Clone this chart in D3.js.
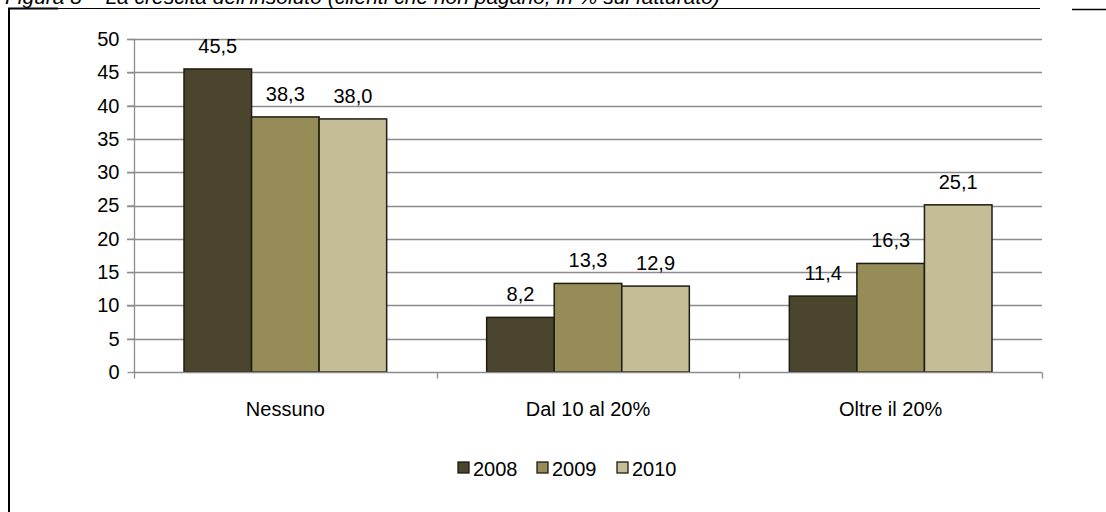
<!DOCTYPE html>
<html><head><meta charset="utf-8">
<script src="https://cdn.jsdelivr.net/npm/d3@7"></script>
<style>body{margin:0;background:#fff}svg{display:block}</style>
</head><body>
<svg id="c" width="1106" height="512"></svg>
<script>
const categories = ["Nessuno", "Dal 10 al 20%", "Oltre il 20%"];
const seriesNames = ["2008", "2009", "2010"];
const values2008 = [45.5, 8.2, 11.4];
const values2009 = [38.3, 13.3, 16.3];
const values2010 = [38.0, 12.9, 25.1];
const yTicks = [0, 5, 10, 15, 20, 25, 30, 35, 40, 45, 50];
const colors = ["#4b452d", "#968c58", "#c5bd96"];
const title = "Figura 8 – La crescita dell'insoluto (clienti che non pagano, in % sul fatturato)";

const series = [values2008, values2009, values2010];
const svg = d3.select("#c");
const font = "Arial, 'Liberation Sans', sans-serif";
const fs = 20;

// title (cut off at the top, as in the reference)
svg.append("text").attr("x", 5).attr("y", 4).attr("font-family", font)
  .attr("font-style", "italic").attr("font-size", 21).attr("fill", "#000").text(title);
// frame
svg.append("line").attr("x1", 8).attr("x2", 1040).attr("y1", 8.5).attr("y2", 8.5).attr("stroke", "#000").attr("stroke-width", 1);
svg.append("line").attr("x1", 8).attr("x2", 58).attr("y1", 8.5).attr("y2", 8.5).attr("stroke", "#000").attr("stroke-width", 2);
svg.append("line").attr("x1", 1072).attr("x2", 1106).attr("y1", 9.5).attr("y2", 9.5).attr("stroke", "#000").attr("stroke-width", 1.5);
svg.append("line").attr("x1", 9).attr("x2", 9).attr("y1", 8).attr("y2", 512).attr("stroke", "#000").attr("stroke-width", 2);

const x0 = d3.scaleBand().domain(categories).range([134, 1042]).paddingInner(0).paddingOuter(0);
const y = d3.scaleLinear().domain([0, 50]).range([372, 39]);
const inner = 50;
const x1 = d3.scaleBand().domain(seriesNames).range([inner, x0.bandwidth() - inner]).padding(0);

// gridlines
svg.append("g").selectAll("line").data(yTicks.filter(d => d > 0)).join("line")
  .attr("x1", 127).attr("x2", 1042).attr("y1", d => Math.round(y(d)) + 0.5).attr("y2", d => Math.round(y(d)) + 0.5)
  .attr("stroke", "#8c8c8c").attr("stroke-width", 1.3);

// y axis
const yAxis = svg.append("g").attr("transform", "translate(134.5,0)")
  .call(d3.axisLeft(y).tickValues(yTicks).tickSize(7).tickPadding(8).tickFormat(d3.format("d")));
yAxis.select(".domain").attr("stroke", "#8c8c8c").attr("stroke-width", 1.3).attr("d", `M0,${y(50)}V${y(0)}`);
yAxis.selectAll(".tick line").attr("stroke", "#8c8c8c").attr("stroke-width", 1.3);
yAxis.selectAll(".tick text").attr("font-family", font).attr("font-size", fs).attr("fill", "#000");

// bars
const groups = svg.append("g").selectAll("g").data(categories).join("g")
  .attr("transform", d => `translate(${x0(d)},0)`);
groups.selectAll("rect").data((c, i) => seriesNames.map((s, j) => ({s, v: series[j][i], j}))).join("rect")
  .attr("x", d => x1(d.s)).attr("width", x1.bandwidth())
  .attr("y", d => y(d.v)).attr("height", d => y(0) - y(d.v))
  .attr("fill", d => colors[d.j]).attr("stroke", "#1e1c12").attr("stroke-width", 1.5);
groups.selectAll("text").data((c, i) => seriesNames.map((s, j) => ({s, v: series[j][i], j}))).join("text")
  .attr("x", d => x1(d.s) + x1.bandwidth() / 2).attr("y", d => y(d.v) - 16)
  .attr("text-anchor", "middle").attr("font-family", font).attr("font-size", fs).attr("fill", "#000")
  .text(d => d3.format(".1f")(d.v).replace(".", ","));

// x axis
const xAxis = svg.append("g").attr("transform", `translate(0,${Math.round(y(0)) + 0.5})`);
xAxis.append("line").attr("x1", 134).attr("x2", 1042).attr("stroke", "#8c8c8c").attr("stroke-width", 1.3);
const bounds = [134, ...categories.map(c => x0(c) + x0.bandwidth())];
xAxis.selectAll("line.t").data(bounds).join("line").attr("class", "t")
  .attr("x1", d => Math.round(d) + 0.5).attr("x2", d => Math.round(d) + 0.5).attr("y1", 0).attr("y2", 6)
  .attr("stroke", "#8c8c8c").attr("stroke-width", 1.3);
xAxis.selectAll("text").data(categories).join("text")
  .attr("x", d => x0(d) + x0.bandwidth() / 2).attr("y", 43)
  .attr("text-anchor", "middle").attr("font-family", font).attr("font-size", fs).attr("fill", "#000").text(d => d);

// legend
const legX = [458, 537, 617];
const leg = svg.append("g").selectAll("g").data(seriesNames).join("g")
  .attr("transform", (d, i) => `translate(${legX[i]},462)`);
leg.append("rect").attr("width", 11).attr("height", 11).attr("fill", (d, i) => colors[i])
  .attr("stroke", "#1e1c12").attr("stroke-width", 1.3);
leg.append("text").attr("x", 15).attr("y", 14).attr("font-family", font).attr("font-size", fs).attr("fill", "#000").text(d => d);
</script>
</body></html>
